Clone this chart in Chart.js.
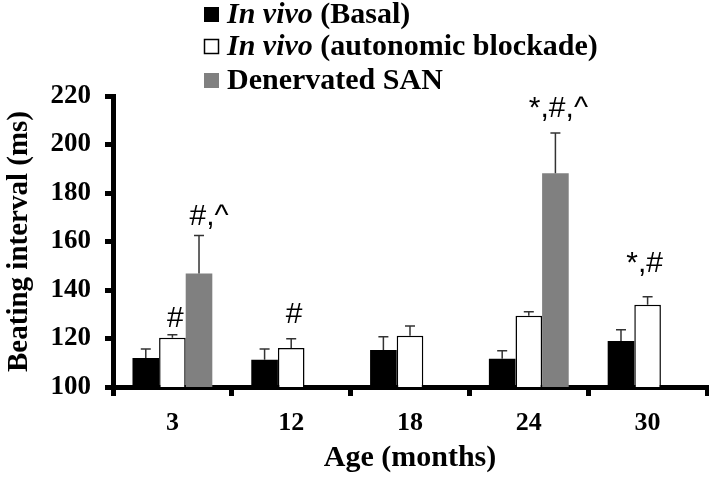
<!DOCTYPE html>
<html>
<head>
<meta charset="utf-8">
<script src="https://cdn.jsdelivr.net/npm/chart.js@4/dist/chart.umd.min.js"></script>
<style>
  body { margin: 0; background: #fff; }
  #wrap { width: 709px; height: 478px; }
</style>
</head>
<body>
<div id="wrap"><canvas id="beatChart" width="709" height="478"></canvas></div>
<script>
// valores (ms)
const ages = ['3', '12', '18', '24', '30'];
const basal = [112, 111.2, 115.3, 111.6, 119];
const basalErr = [3.7, 4.5, 5.4, 3.3, 4.6];
const blockade = [120.3, 116.1, 121.1, 129.4, 133.9];
const blockadeErr = [1.2, 3.8, 4.1, 1.6, 3.3];
const denervated = [146.8, null, null, 188.1, null];
const denervatedErr = [15.7, null, null, 16.6, null];
const yTicks = [100, 120, 140, 160, 180, 200, 220];

// marcas de significancia: [serie, indice, texto]
const marks = [
    [1, 0, '#'],
    [2, 0, '#,^'],
    [1, 1, '#'],
    [2, 3, '*,#,^'],
    [1, 4, '*,#']
];
const markGap = [8, 10, 16, 16, 25];
const markShift = [3, 10, 3, 3, -3];

const serif = "'Liberation Serif', 'Times New Roman', serif";
const errs = [basalErr, blockadeErr, denervatedErr];

const errorBars = {
    id: 'errorBars',
    afterDatasetsDraw(chart) {
        const ctx = chart.ctx;
        const y = chart.scales.y;
        ctx.save();
        ctx.strokeStyle = '#333';
        ctx.lineWidth = 1.5;
        chart.data.datasets.forEach((ds, i) => {
            const meta = chart.getDatasetMeta(i);
            meta.data.forEach((bar, j) => {
                const v = ds.data[j];
                if (v == null || errs[i][j] == null) return;
                const top = y.getPixelForValue(v + errs[i][j]);
                ctx.beginPath();
                ctx.moveTo(bar.x, bar.y);
                ctx.lineTo(bar.x, top);
                ctx.moveTo(bar.x - 5, top);
                ctx.lineTo(bar.x + 5, top);
                ctx.stroke();
            });
        });
        // asteriscos y simbolos
        ctx.fillStyle = '#000';
        ctx.font = "30px 'Liberation Sans', Arial, sans-serif";
        ctx.textAlign = 'center';
        ctx.textBaseline = 'alphabetic';
        marks.forEach(([s, j, txt], k) => {
            const bar = chart.getDatasetMeta(s).data[j];
            const v = chart.data.datasets[s].data[j] + errs[s][j];
            const top = y.getPixelForValue(v);
            ctx.fillText(txt, bar.x + markShift[k], top - markGap[k]);
        });
        ctx.restore();
    }
};

const customLegend = {
    id: 'customLegend',
    afterDraw(chart) {
        const ctx = chart.ctx;
        const rows = [
            { color: '#000', italic: 'In vivo', rest: ' (Basal)' },
            { color: '#fff', italic: 'In vivo', rest: ' (autonomic blockade)' },
            { color: '#808080', italic: '', rest: 'Denervated SAN' }
        ];
        const cy = [14, 46, 80];
        ctx.save();
        ctx.textBaseline = 'middle';
        rows.forEach((r, i) => {
            ctx.fillStyle = r.color;
            ctx.fillRect(204, cy[i] - 7, 15, 15);
            if (r.color === '#fff') {
                ctx.strokeStyle = '#000';
                ctx.lineWidth = 1.5;
                ctx.strokeRect(204.5, cy[i] - 6.5, 14, 14);
            }
            ctx.fillStyle = '#000';
            let x = 227;
            if (r.italic) {
                ctx.font = 'italic bold 30px ' + serif;
                ctx.fillText(r.italic, x, cy[i] + 1);
                x += ctx.measureText(r.italic).width;
            }
            ctx.font = 'bold 30px ' + serif;
            ctx.fillText(r.rest, x, cy[i] + 1);
        });
        ctx.restore();
    }
};

const beatChart = new Chart(document.getElementById('beatChart'), {
    type: 'bar',
    data: {
        labels: ages,
        datasets: [{
            label: 'In vivo (Basal)',
            data: basal,
            backgroundColor: '#000',
            borderWidth: 0
        }, {
            label: 'In vivo (autonomic blockade)',
            data: blockade,
            backgroundColor: '#fff',
            borderColor: '#000',
            borderWidth: 1.5
        }, {
            label: 'Denervated SAN',
            data: denervated,
            backgroundColor: '#808080',
            borderWidth: 0
        }]
    },
    options: {
        responsive: false,
        animation: false,
        devicePixelRatio: 1,
        categoryPercentage: 0.672,
        barPercentage: 1,
        layout: { padding: { top: 96, right: 2, left: 0, bottom: 0 } },
        plugins: {
            legend: { display: false },
            tooltip: { enabled: false }
        },
        scales: {
            x: {
                afterFit(s) { s.height = 91; },
                grid: { drawOnChartArea: false, color: '#000', lineWidth: 5, tickLength: 9 },
                border: { color: '#000', width: 5 },
                ticks: { color: '#000', padding: 12, font: { family: serif, size: 26, weight: 'bold' } },
                title: {
                    display: true, text: 'Age (months)', color: '#000',
                    padding: { top: 0, bottom: 2 },
                    font: { family: serif, size: 30, weight: 'bold' }
                }
            },
            y: {
                min: 100,
                max: 220,
                afterFit(s) { s.width = 113; },
                afterBuildTicks(s) { s.ticks = yTicks.map(v => ({ value: v })); },
                grid: { drawOnChartArea: false, color: '#000', lineWidth: 5, tickLength: 8 },
                border: { color: '#000', width: 5 },
                ticks: { color: '#000', padding: 14, font: { family: serif, size: 27, weight: 'bold' } },
                title: {
                    display: true, text: 'Beating interval (ms)', color: '#000',
                    padding: { top: 2, bottom: 0 },
                    font: { family: serif, size: 29, weight: 'bold' }
                }
            }
        }
    },
    plugins: [errorBars, customLegend]
});
</script>
</body>
</html>
